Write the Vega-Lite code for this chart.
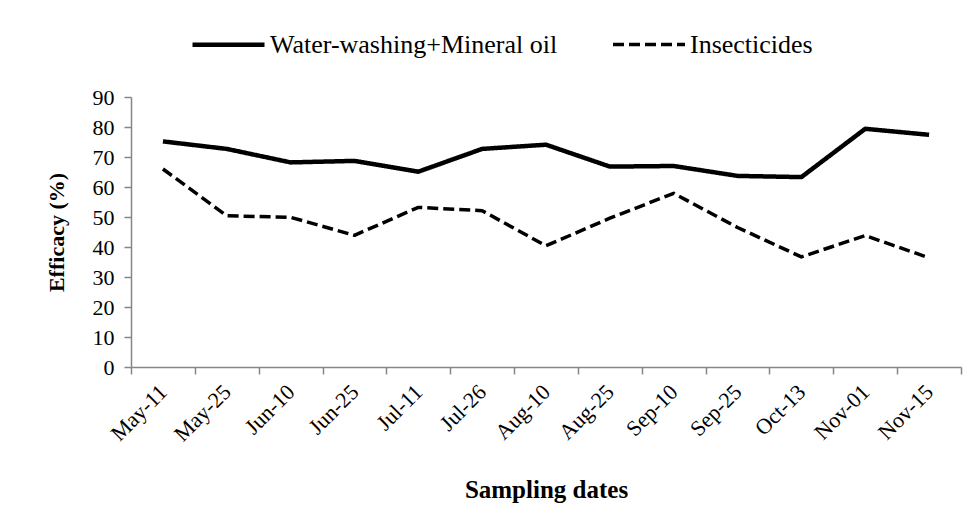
{
  "$schema": "https://vega.github.io/schema/vega-lite/v6.json",
  "autosize": "none",
  "width": 830,
  "height": 270,
  "padding": {"left": 131, "top": 97, "right": 17, "bottom": 164},
  "background": "white",
  "config": {"font": "Liberation Serif", "view": {"stroke": null}},
  "data": {
    "values": [
      {"date": "May-11", "series": "Water-washing+Mineral oil", "efficacy": 75.2},
      {"date": "May-25", "series": "Water-washing+Mineral oil", "efficacy": 72.7},
      {"date": "Jun-10", "series": "Water-washing+Mineral oil", "efficacy": 68.2},
      {"date": "Jun-25", "series": "Water-washing+Mineral oil", "efficacy": 68.7},
      {"date": "Jul-11", "series": "Water-washing+Mineral oil", "efficacy": 65.1},
      {"date": "Jul-26", "series": "Water-washing+Mineral oil", "efficacy": 72.7},
      {"date": "Aug-10", "series": "Water-washing+Mineral oil", "efficacy": 74.1},
      {"date": "Aug-25", "series": "Water-washing+Mineral oil", "efficacy": 66.8},
      {"date": "Sep-10", "series": "Water-washing+Mineral oil", "efficacy": 67.0},
      {"date": "Sep-25", "series": "Water-washing+Mineral oil", "efficacy": 63.7},
      {"date": "Oct-13", "series": "Water-washing+Mineral oil", "efficacy": 63.3},
      {"date": "Nov-01", "series": "Water-washing+Mineral oil", "efficacy": 79.4},
      {"date": "Nov-15", "series": "Water-washing+Mineral oil", "efficacy": 77.4},
      {"date": "May-11", "series": "Insecticides", "efficacy": 66.0},
      {"date": "May-25", "series": "Insecticides", "efficacy": 50.4},
      {"date": "Jun-10", "series": "Insecticides", "efficacy": 49.9},
      {"date": "Jun-25", "series": "Insecticides", "efficacy": 43.9},
      {"date": "Jul-11", "series": "Insecticides", "efficacy": 53.2},
      {"date": "Jul-26", "series": "Insecticides", "efficacy": 52.1},
      {"date": "Aug-10", "series": "Insecticides", "efficacy": 40.4},
      {"date": "Aug-25", "series": "Insecticides", "efficacy": 49.6},
      {"date": "Sep-10", "series": "Insecticides", "efficacy": 57.9},
      {"date": "Sep-25", "series": "Insecticides", "efficacy": 46.5},
      {"date": "Oct-13", "series": "Insecticides", "efficacy": 36.7},
      {"date": "Nov-01", "series": "Insecticides", "efficacy": 43.8},
      {"date": "Nov-15", "series": "Insecticides", "efficacy": 36.4}
    ]
  },
  "mark": {"type": "line", "color": "black", "strokeCap": "butt", "strokeJoin": "round"},
  "encoding": {
    "x": {
      "field": "date",
      "type": "ordinal",
      "sort": ["May-11", "May-25", "Jun-10", "Jun-25", "Jul-11", "Jul-26", "Aug-10", "Aug-25", "Sep-10", "Sep-25", "Oct-13", "Nov-01", "Nov-15"],
      "scale": {"type": "band", "paddingInner": 0, "paddingOuter": 0},
      "bandPosition": 0.5,
      "axis": {
        "title": "Sampling dates",
        "labelAngle": -45,
        "labelAlign": "right",
        "labelBaseline": "middle",
        "tickBand": "extent",
        "labelFont": "Liberation Serif",
        "labelFontSize": 22,
        "labelColor": "black",
        "labelPadding": 14,
        "tickSize": 7,
        "tickColor": "#868686",
        "tickWidth": 1.5,
        "domainColor": "#868686",
        "domainWidth": 1.5,
        "titleFont": "Liberation Serif",
        "titleFontSize": 25,
        "titleFontWeight": "bold",
        "titleColor": "black",
        "titlePadding": 32
      }
    },
    "y": {
      "field": "efficacy",
      "type": "quantitative",
      "scale": {"domain": [0, 90], "nice": false},
      "axis": {
        "title": "Efficacy (%)",
        "values": [0, 10, 20, 30, 40, 50, 60, 70, 80, 90],
        "grid": false,
        "labelFont": "Liberation Serif",
        "labelFontSize": 22,
        "labelColor": "black",
        "labelPadding": 10,
        "tickSize": 7,
        "tickColor": "#868686",
        "tickWidth": 1.5,
        "domainColor": "#868686",
        "domainWidth": 1.5,
        "titleFont": "Liberation Serif",
        "titleFontSize": 22,
        "titleFontWeight": "bold",
        "titleColor": "black",
        "titlePadding": 24
      }
    },
    "strokeDash": {
      "field": "series",
      "type": "nominal",
      "scale": {"domain": ["Water-washing+Mineral oil", "Insecticides"], "range": [[1, 0], [11, 5]]},
      "legend": {
        "orient": "none",
        "legendX": 59,
        "legendY": -91,
        "direction": "horizontal",
        "title": null,
        "symbolType": "stroke",
        "symbolSize": 5184,
        "symbolStrokeColor": "black",
        "symbolStrokeWidth": 4,
        "labelFont": "Liberation Serif",
        "labelFontSize": 26,
        "labelColor": "black",
        "labelOffset": 3,
        "labelLimit": 0,
        "columnPadding": 48
      }
    },
    "strokeWidth": {
      "field": "series",
      "type": "nominal",
      "scale": {"domain": ["Water-washing+Mineral oil", "Insecticides"], "range": [4.5, 3.5]},
      "legend": null
    }
  }
}
